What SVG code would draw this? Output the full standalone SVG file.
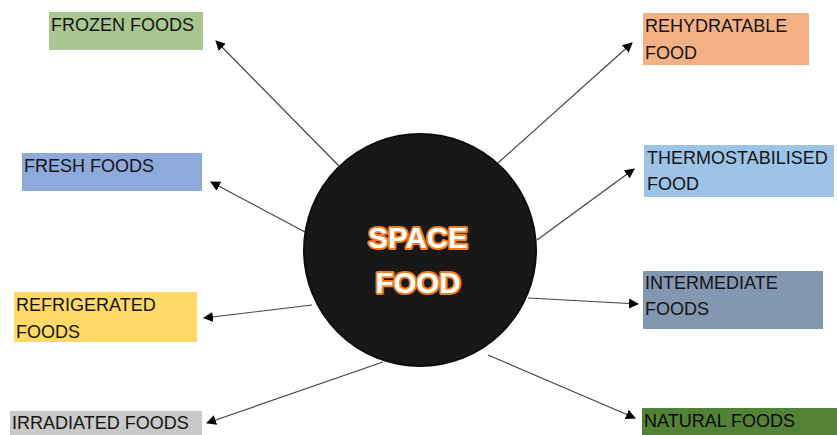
<svg xmlns="http://www.w3.org/2000/svg" width="837" height="435" viewBox="0 0 837 435">
<defs>
<marker id="ah" viewBox="0 0 10 10" refX="9" refY="5" markerWidth="10" markerHeight="10" markerUnits="userSpaceOnUse" orient="auto">
<path d="M0,0 L10,5 L0,10 Z" fill="#000"/>
</marker>
<style>
.lbl{font-family:"Liberation Sans",Arial,sans-serif;font-size:18px;fill:#141414}
.conn line{stroke:#444;stroke-width:1.2;marker-end:url(#ah)}
.ctr{font-family:"Liberation Sans",Arial,sans-serif;font-size:29.5px;font-weight:bold;fill:#fff;stroke:#ef7d22;stroke-width:4;stroke-linejoin:round;paint-order:stroke;text-anchor:middle}
</style>
</defs>
<rect width="837" height="435" fill="#fff"/>
<g id="connectors" class="conn">
<line x1="339" y1="166" x2="216" y2="41"/>
<line x1="305" y1="232" x2="211" y2="182"/>
<line x1="312" y1="305" x2="204" y2="318"/>
<line x1="383" y1="362" x2="207" y2="423"/>
<line x1="498" y1="163" x2="632" y2="43"/>
<line x1="537" y1="240" x2="634" y2="169"/>
<line x1="528" y1="298" x2="638" y2="304"/>
<line x1="488" y1="355" x2="635" y2="418"/>
</g>
<g id="center">
<circle cx="420" cy="250" r="116" fill="#181818" stroke="#0d0d0d" stroke-width="2"/>
<text class="ctr" x="418" y="248">SPACE</text>
<text class="ctr" x="418" y="293">FOOD</text>
</g>
<g id="frozen">
<rect x="49" y="12" width="154" height="38" fill="#a8c68f"/>
<text class="lbl" x="51" y="31">FROZEN FOODS</text>
</g>
<g id="fresh">
<rect x="22" y="153" width="180" height="38" fill="#8eaadb"/>
<text class="lbl" x="24" y="172">FRESH FOODS</text>
</g>
<g id="refrigerated">
<rect x="14" y="292" width="183" height="50" fill="#ffd966"/>
<text class="lbl" x="16" y="311">REFRIGERATED</text>
<text class="lbl" x="16" y="338">FOODS</text>
</g>
<g id="irradiated">
<rect x="10" y="411" width="192" height="24" fill="#c9c9c9"/>
<text class="lbl" x="12" y="429">IRRADIATED FOODS</text>
</g>
<g id="rehydratable">
<rect x="643" y="13" width="166" height="52" fill="#f4b183"/>
<text class="lbl" x="645" y="32">REHYDRATABLE</text>
<text class="lbl" x="645" y="59">FOOD</text>
</g>
<g id="thermostabilised">
<rect x="644" y="145" width="190" height="52" fill="#9dc3e6"/>
<text class="lbl" x="647" y="164">THERMOSTABILISED</text>
<text class="lbl" x="647" y="190">FOOD</text>
</g>
<g id="intermediate">
<rect x="643" y="271" width="180" height="58" fill="#8497b0"/>
<text class="lbl" x="645" y="289">INTERMEDIATE</text>
<text class="lbl" x="645" y="315">FOODS</text>
</g>
<g id="natural">
<rect x="642" y="408" width="195" height="27" fill="#548235"/>
<text class="lbl" x="644" y="427" style="fill:#0a0a0a">NATURAL FOODS</text>
</g>
</svg>
